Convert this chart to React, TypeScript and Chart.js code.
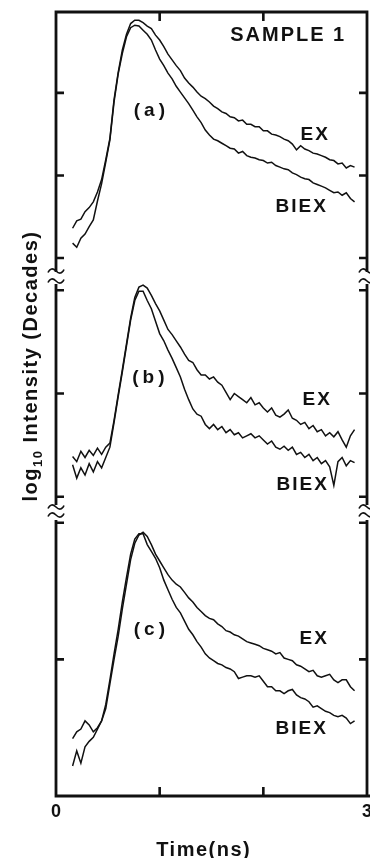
import React, { useEffect, useRef } from 'react';
import { Chart, registerables } from 'chart.js';

Chart.register(...registerables);

// ---------- data (time in ns, log10 intensity in decades) ----------
const TIMES = [
  0.16, 0.20, 0.24, 0.28, 0.32, 0.36, 0.40, 0.44, 0.48, 0.52,
  0.56, 0.60, 0.64, 0.68, 0.72, 0.76, 0.80, 0.84, 0.88, 0.92,
  0.96, 1.00, 1.04, 1.08, 1.12, 1.16, 1.20, 1.24, 1.28, 1.32,
  1.36, 1.40, 1.44, 1.48, 1.52, 1.56, 1.60, 1.64, 1.68, 1.72,
  1.76, 1.80, 1.84, 1.88, 1.92, 1.96, 2.00, 2.04, 2.08, 2.12,
  2.16, 2.20, 2.24, 2.28, 2.32, 2.36, 2.40, 2.44, 2.48, 2.52,
  2.56, 2.60, 2.64, 2.68, 2.72, 2.76, 2.80, 2.84, 2.88,
];

const EX_A = [
  1.36, 1.45, 1.47, 1.56, 1.61, 1.68, 1.80, 1.95, 2.19, 2.45,
  2.92, 3.25, 3.52, 3.71, 3.84, 3.88, 3.88, 3.85, 3.81, 3.78,
  3.70, 3.64, 3.56, 3.47, 3.40, 3.33, 3.27, 3.18, 3.12, 3.07,
  3.01, 2.96, 2.93, 2.89, 2.84, 2.81, 2.77, 2.75, 2.71, 2.70,
  2.66, 2.67, 2.62, 2.62, 2.59, 2.59, 2.54, 2.54, 2.50, 2.49,
  2.47, 2.44, 2.42, 2.38, 2.31, 2.36, 2.32, 2.30, 2.27, 2.26,
  2.24, 2.22, 2.19, 2.18, 2.14, 2.15, 2.09, 2.12, 2.10,
];
const BIEX_A = [
  1.18, 1.13, 1.24, 1.29, 1.38, 1.46, 1.69, 1.90, 2.16, 2.43,
  2.89, 3.23, 3.48, 3.68, 3.79, 3.82, 3.81, 3.76, 3.71, 3.64,
  3.52, 3.41, 3.33, 3.24, 3.17, 3.08, 3.01, 2.94, 2.87, 2.79,
  2.71, 2.64, 2.55, 2.49, 2.44, 2.42, 2.39, 2.36, 2.33, 2.32,
  2.27, 2.29, 2.24, 2.22, 2.21, 2.19, 2.18, 2.15, 2.16, 2.12,
  2.10, 2.08, 2.07, 2.03, 2.01, 1.98, 1.96, 1.95, 1.91, 1.89,
  1.87, 1.85, 1.82, 1.79, 1.80, 1.76, 1.79, 1.72, 1.68,
];

const EX_B = [
  1.39, 1.34, 1.44, 1.38, 1.45, 1.40, 1.47, 1.41, 1.48, 1.52,
  1.74, 1.99, 2.23, 2.48, 2.73, 2.93, 3.03, 3.05, 3.02, 2.95,
  2.87, 2.80, 2.71, 2.62, 2.57, 2.51, 2.45, 2.38, 2.32, 2.30,
  2.23, 2.18, 2.18, 2.14, 2.16, 2.11, 2.08, 2.01, 1.94, 2.00,
  1.97, 1.94, 1.91, 1.96, 1.89, 1.91, 1.86, 1.82, 1.86, 1.79,
  1.77, 1.80, 1.84, 1.76, 1.74, 1.70, 1.72, 1.66, 1.69, 1.63,
  1.65, 1.59, 1.62, 1.58, 1.63, 1.55, 1.48, 1.59, 1.65,
];
const BIEX_B = [
  1.31, 1.18, 1.28, 1.21, 1.32, 1.24, 1.34, 1.28, 1.38, 1.48,
  1.72, 1.97, 2.21, 2.46, 2.71, 2.90, 2.99, 2.99, 2.90, 2.82,
  2.70, 2.58, 2.51, 2.42, 2.34, 2.25, 2.16, 2.04, 1.94, 1.85,
  1.80, 1.78, 1.70, 1.66, 1.70, 1.65, 1.68, 1.62, 1.65, 1.60,
  1.62, 1.57, 1.59, 1.61, 1.57, 1.59, 1.55, 1.51, 1.54, 1.48,
  1.46, 1.49, 1.45, 1.48, 1.41, 1.43, 1.38, 1.41, 1.35, 1.38,
  1.32, 1.35, 1.29, 1.11, 1.34, 1.38, 1.30, 1.35, 1.33,
];

const EX_C = [
  0.42, 0.47, 0.49, 0.55, 0.52, 0.47, 0.50, 0.55, 0.64, 0.82,
  1.00, 1.17, 1.37, 1.55, 1.73, 1.85, 1.91, 1.93, 1.90, 1.84,
  1.77, 1.72, 1.67, 1.62, 1.58, 1.55, 1.53, 1.49, 1.45, 1.42,
  1.38, 1.35, 1.32, 1.30, 1.29, 1.26, 1.24, 1.21, 1.20, 1.18,
  1.17, 1.15, 1.13, 1.12, 1.11, 1.10, 1.08, 1.07, 1.06, 1.04,
  1.05, 1.01, 1.00, 0.99, 0.96, 0.95, 0.93, 0.91, 0.92, 0.88,
  0.87, 0.88, 0.89, 0.85, 0.83, 0.85, 0.85, 0.80, 0.77,
];
const BIEX_C = [
  0.22, 0.33, 0.24, 0.36, 0.40, 0.43, 0.49, 0.55, 0.67, 0.85,
  1.04, 1.22, 1.42, 1.60, 1.77, 1.88, 1.92, 1.92, 1.84, 1.79,
  1.74, 1.67, 1.58, 1.51, 1.44, 1.38, 1.34, 1.28, 1.22, 1.18,
  1.13, 1.09, 1.04, 1.01, 0.99, 0.97, 0.96, 0.94, 0.93, 0.91,
  0.86, 0.87, 0.88, 0.88, 0.87, 0.88, 0.84, 0.80, 0.80, 0.77,
  0.77, 0.75, 0.77, 0.78, 0.74, 0.72, 0.71, 0.69, 0.65, 0.66,
  0.64, 0.62, 0.61, 0.59, 0.58, 0.59, 0.57, 0.53, 0.55,
];

const X_TICK_LABELS = [0, 3];
const X_TICK_MARKS = [1, 2];
const Y_TICKS_A = [1, 2, 3];
const Y_TICKS_B = [1, 2, 3];
const Y_TICKS_C = [1, 2];

const X_TITLE = 'Time(ns)';
const SAMPLE_TITLE = 'SAMPLE 1';

// ---------- styles ----------
const INK = '#111111';
const FONT = '"Liberation Sans", Arial, Helvetica, sans-serif';

type Label = { text: string; t: number; v: number; size: number; ls: string };

type PanelCfg = {
  ex: number[];
  biex: number[];
  yMin: number;
  yMax: number;
  yTicks: number[];
  top: number;
  height: number;
  padTop: number;
  padBottom: number;
  frameTop: boolean;
  frameBottom: boolean;
  breakTop: number | null;
  breakBottom: number | null;
  showX: boolean;
  labels: Label[];
};

const PANELS: PanelCfg[] = [
  {
    ex: EX_A, biex: BIEX_A, yMin: 0.83, yMax: 3.98, yTicks: Y_TICKS_A,
    top: 0, height: 276, padTop: 12, padBottom: 4,
    frameTop: true, frameBottom: false, breakTop: null, breakBottom: -1, showX: false,
    labels: [
      { text: SAMPLE_TITLE, t: 2.24, v: 3.69, size: 20, ls: '2px' },
      { text: '(a)', t: 0.92, v: 2.78, size: 19, ls: '4px' },
      { text: 'EX', t: 2.50, v: 2.49, size: 19, ls: '2px' },
      { text: 'BIEX', t: 2.37, v: 1.62, size: 19, ls: '2px' },
    ],
  },
  {
    ex: EX_B, biex: BIEX_B, yMin: 0.92, yMax: 3.06, yTicks: Y_TICKS_B,
    top: 276, height: 236, padTop: 8, padBottom: 7,
    frameTop: false, frameBottom: false, breakTop: 3, breakBottom: 2, showX: false,
    labels: [
      { text: '(b)', t: 0.91, v: 2.15, size: 19, ls: '4px' },
      { text: 'EX', t: 2.52, v: 1.94, size: 19, ls: '2px' },
      { text: 'BIEX', t: 2.38, v: 1.12, size: 19, ls: '2px' },
    ],
  },
  {
    ex: EX_C, biex: BIEX_C, yMin: 0, yMax: 2.02, yTicks: Y_TICKS_C,
    top: 512, height: 346, padTop: 8, padBottom: 0,
    frameTop: false, frameBottom: true, breakTop: 5, breakBottom: null, showX: true,
    labels: [
      { text: '(c)', t: 0.92, v: 1.22, size: 19, ls: '4px' },
      { text: 'EX', t: 2.49, v: 1.15, size: 19, ls: '2px' },
      { text: 'BIEX', t: 2.37, v: 0.49, size: 19, ls: '2px' },
    ],
  },
];

function wave(ctx: CanvasRenderingContext2D, x: number, y: number) {
  ctx.beginPath();
  ctx.moveTo(x - 8, y + 1.5);
  ctx.bezierCurveTo(x - 6, y - 3, x - 3, y - 3, x, y);
  ctx.bezierCurveTo(x + 3, y + 3, x + 6, y + 3, x + 8, y - 1.5);
  ctx.stroke();
}

function makeFramePlugin(cfg: PanelCfg) {
  return {
    id: 'panelFrame',
    afterDatasetsDraw(chart: any) {
      const { ctx, chartArea: a, scales } = chart;
      const xs = scales.x;
      const ys = scales.y;
      ctx.save();
      ctx.strokeStyle = INK;
      ctx.lineCap = 'butt';
      ctx.lineWidth = 2.8;
      ctx.beginPath();
      const vt = a.top - (cfg.frameTop ? 1.4 : 0);
      const vb = a.bottom + (cfg.frameBottom ? 1.4 : 0);
      ctx.moveTo(a.left, vt);
      ctx.lineTo(a.left, vb);
      ctx.moveTo(a.right, vt);
      ctx.lineTo(a.right, vb);
      if (cfg.frameTop) {
        ctx.moveTo(a.left, a.top);
        ctx.lineTo(a.right, a.top);
      }
      if (cfg.frameBottom) {
        ctx.moveTo(a.left, a.bottom);
        ctx.lineTo(a.right + 3, a.bottom);
      }
      ctx.stroke();

      ctx.lineWidth = 2.6;
      ctx.beginPath();
      for (const v of cfg.yTicks) {
        const y = ys.getPixelForValue(v);
        ctx.moveTo(a.left, y);
        ctx.lineTo(a.left + 8, y);
        ctx.moveTo(a.right, y);
        ctx.lineTo(a.right - 8, y);
      }
      for (const v of X_TICK_MARKS) {
        const x = xs.getPixelForValue(v);
        if (cfg.frameTop) {
          ctx.moveTo(x, a.top);
          ctx.lineTo(x, a.top + 9);
        }
        if (cfg.frameBottom) {
          ctx.moveTo(x, a.bottom);
          ctx.lineTo(x, a.bottom - 9);
        }
      }
      ctx.stroke();

      ctx.lineWidth = 1.6;
      if (cfg.breakTop !== null) {
        wave(ctx, a.left, a.top - cfg.breakTop);
        wave(ctx, a.right, a.top - cfg.breakTop);
      }
      if (cfg.breakBottom !== null) {
        wave(ctx, a.left, a.bottom + cfg.breakBottom);
        wave(ctx, a.right, a.bottom + cfg.breakBottom);
      }

      ctx.fillStyle = INK;
      ctx.textAlign = 'center';
      ctx.textBaseline = 'middle';
      for (const lab of cfg.labels) {
        ctx.font = `bold ${lab.size}px ${FONT}`;
        (ctx as any).letterSpacing = lab.ls;
        ctx.fillText(lab.text, xs.getPixelForValue(lab.t), ys.getPixelForValue(lab.v));
      }
      if (cfg.showX) {
        ctx.font = `bold 20px ${FONT}`;
        (ctx as any).letterSpacing = '1.5px';
        ctx.fillText(X_TITLE, a.left + (a.right - a.left) * 0.475, a.bottom + 54);
      }
      ctx.restore();
    },
  };
}

function Panel({ cfg }: { cfg: PanelCfg }) {
  const ref = useRef<HTMLCanvasElement | null>(null);
  useEffect(() => {
    if (!ref.current) return;
    const line = (vals: number[]) => TIMES.map((t, i) => ({ x: t, y: vals[i] }));
    const chart = new Chart(ref.current, {
      type: 'line',
      data: {
        datasets: [
          { label: 'EX', data: line(cfg.ex), borderColor: INK, borderWidth: 1.5, pointRadius: 0, tension: 0, fill: false },
          { label: 'BIEX', data: line(cfg.biex), borderColor: INK, borderWidth: 1.5, pointRadius: 0, tension: 0, fill: false },
        ],
      },
      options: {
        animation: false,
        responsive: false,
        maintainAspectRatio: false,
        devicePixelRatio: 1,
        events: [],
        layout: { padding: { left: 56, right: 3, top: cfg.padTop, bottom: cfg.padBottom } },
        scales: {
          x: {
            type: 'linear',
            min: 0,
            max: 3,
            display: cfg.showX,
            afterBuildTicks: (s: any) => {
              s.ticks = X_TICK_LABELS.map((v) => ({ value: v }));
            },
            afterFit: (s: any) => {
              if (!cfg.showX) return;
              s.height = 62;
              s.paddingLeft = 0;
              s.paddingRight = 0;
            },
            grid: { display: false, drawTicks: false },
            border: { display: false },
            ticks: {
              color: INK,
              padding: 5,
              maxRotation: 0,
              autoSkip: false,
              font: { family: FONT, weight: 'bold', size: 18 },
              callback: (v: any) => String(v),
            },
          },
          y: { type: 'linear', min: cfg.yMin, max: cfg.yMax, display: false },
        },
        plugins: { legend: { display: false }, tooltip: { enabled: false } },
      } as any,
      plugins: [makeFramePlugin(cfg)],
    });
    return () => chart.destroy();
  }, [cfg]);
  return (
    <div style={{ position: 'absolute', left: 0, top: cfg.top, width: 370, height: cfg.height }}>
      <canvas ref={ref} width={370} height={cfg.height} style={{ display: 'block', width: 370, height: cfg.height }} />
    </div>
  );
}

export default function App() {
  return (
    <div style={{ position: 'absolute', left: 0, top: 0, width: 370, height: 858, background: '#fff', overflow: 'hidden' }}>
      {PANELS.map((p, i) => (
        <Panel key={i} cfg={p} />
      ))}
      <div
        style={{
          position: 'absolute',
          left: 30 - 150,
          top: 366 - 11,
          width: 300,
          height: 22,
          lineHeight: '22px',
          textAlign: 'center',
          transform: 'rotate(-90deg)',
          transformOrigin: '50% 50%',
          fontFamily: FONT,
          fontWeight: 'bold',
          fontSize: 20,
          letterSpacing: '1.5px',
          whiteSpace: 'nowrap',
          color: INK,
        }}
      >
        log<sub style={{ fontSize: 13, verticalAlign: 'sub', lineHeight: 0 }}>10</sub> Intensity (Decades)
      </div>
    </div>
  );
}
